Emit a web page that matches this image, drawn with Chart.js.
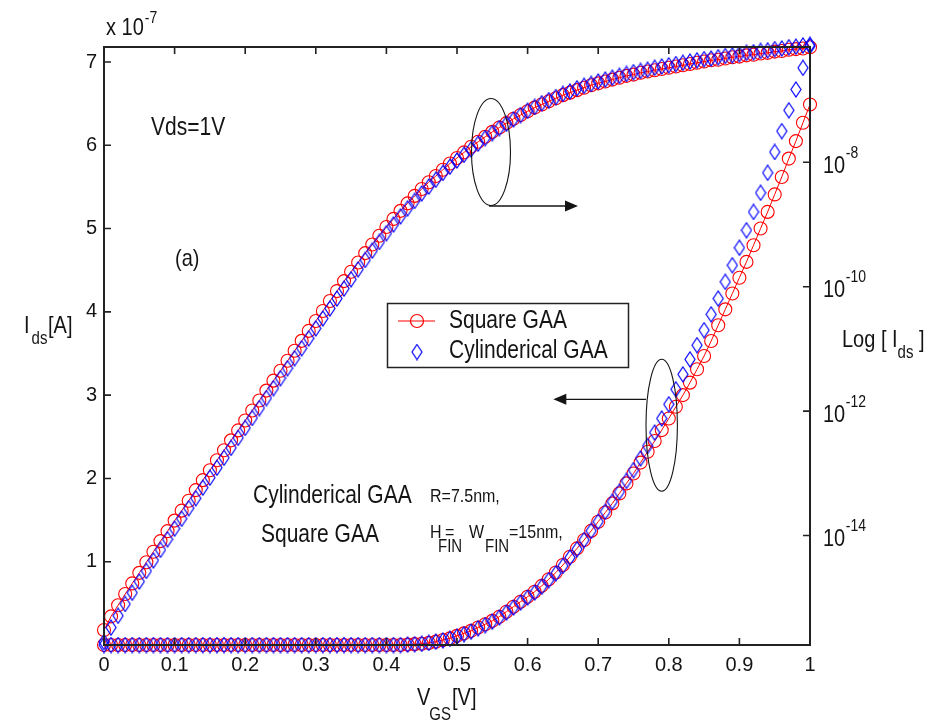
<!DOCTYPE html>
<html><head><meta charset="utf-8">
<script src="https://cdn.jsdelivr.net/npm/chart.js@4.4.0/dist/chart.umd.min.js"></script>
<style>html,body{margin:0;padding:0;background:#fff;overflow:hidden}#wrap{width:943px;height:724px}</style>
</head><body><div id="wrap"><canvas id="c" width="943" height="724"></canvas></div>
<script>
// ---- data ----
const vgs = [0,0.01,0.02,0.03,0.04,0.05,0.06,0.07,0.08,0.09,
 0.1,0.11,0.12,0.13,0.14,0.15,0.16,0.17,0.18,0.19,
 0.2,0.21,0.22,0.23,0.24,0.25,0.26,0.27,0.28,0.29,
 0.3,0.31,0.32,0.33,0.34,0.35,0.36,0.37,0.38,0.39,
 0.4,0.41,0.42,0.43,0.44,0.45,0.46,0.47,0.48,0.49,
 0.5,0.51,0.52,0.53,0.54,0.55,0.56,0.57,0.58,0.59,
 0.6,0.61,0.62,0.63,0.64,0.65,0.66,0.67,0.68,0.69,
 0.7,0.71,0.72,0.73,0.74,0.75,0.76,0.77,0.78,0.79,
 0.8,0.81,0.82,0.83,0.84,0.85,0.86,0.87,0.88,0.89,
 0.9,0.91,0.92,0.93,0.94,0.95,0.96,0.97,0.98,0.99,1];

// linear Ids in units of 1e-7 A (left axis)
const squareLinIds = [0,0,0,0,0,0,0,0,0,0,
 0,0,0,0,0,0,0,0,0,0,
 0,0,0,0,0,0,0,0,0,0,
 0,0,0,0,0,0,0,0,0,0,
 0,0,0,0.005,0.01,0.015,0.025,0.04,0.06,0.08,
 0.11,0.14,0.17,0.21,0.25,0.29,0.34,0.40,0.46,0.52,
 0.58,0.64,0.71,0.79,0.87,0.96,1.06,1.16,1.26,1.37,
 1.48,1.59,1.70,1.82,1.94,2.06,2.19,2.32,2.45,2.58,
 2.72,2.86,3.00,3.15,3.31,3.47,3.65,3.84,4.03,4.22,
 4.41,4.60,4.80,5.00,5.20,5.41,5.62,5.84,6.05,6.27,6.49];
const cylLinIds = [0,0,0,0,0,0,0,0,0,0,
 0,0,0,0,0,0,0,0,0,0,
 0,0,0,0,0,0,0,0,0,0,
 0,0,0,0,0,0,0,0,0,0,
 0,0,0,0.005,0.01,0.015,0.025,0.04,0.055,0.075,
 0.10,0.13,0.16,0.20,0.24,0.28,0.33,0.39,0.45,0.51,
 0.57,0.63,0.70,0.78,0.86,0.95,1.05,1.15,1.26,1.37,
 1.48,1.60,1.72,1.84,1.97,2.10,2.24,2.39,2.55,2.72,
 2.89,3.07,3.25,3.43,3.60,3.78,3.97,4.16,4.36,4.56,
 4.77,4.98,5.20,5.43,5.67,5.92,6.17,6.42,6.67,6.93,7.19];

// log10(Ids [A]) (right axis)
const squareLogExp = [-15.52,-15.30,-15.12,-14.94,-14.77,-14.60,-14.43,-14.26,-14.09,-13.93,
 -13.76,-13.60,-13.44,-13.27,-13.11,-12.95,-12.79,-12.63,-12.47,-12.31,
 -12.15,-11.99,-11.83,-11.67,-11.51,-11.35,-11.19,-11.03,-10.87,-10.71,
 -10.55,-10.39,-10.23,-10.07,-9.91,-9.76,-9.61,-9.46,-9.32,-9.18,
 -9.04,-8.91,-8.78,-8.66,-8.54,-8.43,-8.32,-8.22,-8.12,-8.02,
 -7.93,-7.84,-7.75,-7.67,-7.59,-7.51,-7.44,-7.37,-7.30,-7.24,
 -7.18,-7.12,-7.07,-7.02,-6.97,-6.92,-6.88,-6.84,-6.80,-6.76,
 -6.73,-6.70,-6.67,-6.64,-6.61,-6.59,-6.56,-6.54,-6.52,-6.50,
 -6.48,-6.46,-6.44,-6.42,-6.40,-6.38,-6.36,-6.35,-6.33,-6.31,
 -6.30,-6.28,-6.27,-6.25,-6.24,-6.22,-6.21,-6.19,-6.18,-6.17,-6.15];
const cylLogExp = [-15.71,-15.48,-15.29,-15.10,-14.92,-14.74,-14.57,-14.40,-14.23,-14.06,
 -13.89,-13.73,-13.56,-13.40,-13.23,-13.07,-12.91,-12.75,-12.59,-12.43,
 -12.27,-12.11,-11.95,-11.79,-11.63,-11.47,-11.31,-11.15,-10.99,-10.83,
 -10.67,-10.51,-10.35,-10.19,-10.03,-9.88,-9.72,-9.57,-9.42,-9.28,
 -9.14,-9.00,-8.87,-8.74,-8.62,-8.50,-8.39,-8.28,-8.17,-8.07,
 -7.97,-7.88,-7.79,-7.70,-7.61,-7.53,-7.45,-7.38,-7.31,-7.24,
 -7.17,-7.11,-7.05,-7.00,-6.95,-6.90,-6.86,-6.81,-6.77,-6.74,
 -6.70,-6.67,-6.64,-6.61,-6.58,-6.55,-6.53,-6.51,-6.48,-6.46,
 -6.44,-6.42,-6.40,-6.38,-6.36,-6.34,-6.33,-6.31,-6.29,-6.28,
 -6.26,-6.24,-6.23,-6.21,-6.20,-6.18,-6.17,-6.15,-6.14,-6.12,-6.11];

const seriesNames = ['Square GAA', 'Cylinderical GAA'];
const xTicks = [0,0.1,0.2,0.3,0.4,0.5,0.6,0.7,0.8,0.9,1];
const leftTicks = [1,2,3,4,5,6,7];
const rightTickExps = [-14,-12,-10,-8];

// ---- style ----
const FONT = '"Liberation Sans", Arial, Helvetica, sans-serif';
const RED = '#ff0000', BLUE = '#0000ff', INK = '#141414', FRAME = '#222222';
const VS = 1.2; // vertical text stretch of the original raster

function makeDiamond(color){
  const c = document.createElement('canvas'); c.width = 12; c.height = 17;
  const g = c.getContext('2d');
  g.strokeStyle = color; g.lineWidth = 1.2;
  g.beginPath(); g.moveTo(6,1); g.lineTo(11,8.5); g.lineTo(6,16); g.lineTo(1,8.5); g.closePath(); g.stroke();
  return c;
}
const diamond = makeDiamond(BLUE);

const pts = (arr) => vgs.map((v,i)=>({x:v, y:arr[i]}));
const logPts = (arr) => vgs.map((v,i)=>({x:v, y:Math.pow(10, arr[i])}));

function txt(ctx, s, x, y, size, color){
  ctx.save();
  ctx.font = size + 'px ' + FONT;
  ctx.fillStyle = color || INK;
  ctx.textAlign = 'left'; ctx.textBaseline = 'alphabetic';
  ctx.translate(x, y); ctx.scale(1, VS);
  ctx.fillText(s, 0, 0);
  const w = ctx.measureText(s).width;
  ctx.restore();
  return x + w;
}

function arrow(ctx, x1, y, x2){
  const dir = Math.sign(x2 - x1);
  ctx.beginPath(); ctx.moveTo(x1, y); ctx.lineTo(x2 - dir*12, y); ctx.stroke();
  ctx.beginPath(); ctx.moveTo(x2, y); ctx.lineTo(x2 - dir*13, y - 5.5); ctx.lineTo(x2 - dir*13, y + 5.5); ctx.closePath(); ctx.fill();
}

const decor = {
  id: 'decor',
  afterDraw(chart){
    const {ctx, chartArea:{left,right,top,bottom}, scales:{x,y,y2}} = chart;
    ctx.save();
    // frame
    ctx.strokeStyle = FRAME; ctx.lineWidth = 2;
    ctx.strokeRect(left, top, right-left, bottom-top);
    // inward ticks
    ctx.lineWidth = 1.6;
    ctx.beginPath();
    xTicks.forEach(v=>{ const px = x.getPixelForValue(v);
      ctx.moveTo(px, bottom); ctx.lineTo(px, bottom-7);
      ctx.moveTo(px, top); ctx.lineTo(px, top+7); });
    leftTicks.forEach(v=>{ const py = y.getPixelForValue(v); ctx.moveTo(left, py); ctx.lineTo(left+7, py); });
    rightTickExps.forEach(e=>{ const py = y2.getPixelForValue(Math.pow(10,e)); ctx.moveTo(right, py); ctx.lineTo(right-7, py); });
    ctx.stroke();
    // right log tick labels 10^e
    rightTickExps.forEach(e=>{
      const py = y2.getPixelForValue(Math.pow(10,e));
      const xe = txt(ctx, '10', right+13, py+10.5, 20);
      txt(ctx, String(e), xe+0.5, py-4.5, 14);
    });
    // multiplier x 10^-7
    const xm = txt(ctx, 'x 10', 106, 35, 20);
    txt(ctx, '-7', xm+1, 22.5, 14);
    // axis titles
    let xx = txt(ctx, 'I', 24, 333, 20); txt(ctx, 'ds', xx+2, 344, 15); txt(ctx, '[A]', 48, 333, 20);
    xx = txt(ctx, 'V', 417, 705, 20); xx = txt(ctx, 'GS', xx-1, 720, 15); txt(ctx, '[V]', xx+1, 705, 20);
    xx = txt(ctx, 'Log [ I', 842, 347, 20); xx = txt(ctx, 'ds', xx, 358, 15); txt(ctx, ' ]', xx, 347, 20);
    // annotations
    txt(ctx, 'Vds=1V', 151, 135, 21);
    txt(ctx, '(a)', 175, 266, 20);
    txt(ctx, 'Cylinderical GAA', 253, 503, 21);
    txt(ctx, 'R=7.5nm,', 430, 502, 16);
    txt(ctx, 'Square GAA', 261, 542, 21);
    txt(ctx, 'H', 430, 538, 16);
    txt(ctx, 'FIN', 438, 552, 15);
    txt(ctx, '=', 445, 538, 16);
    txt(ctx, 'W', 469, 538, 16);
    txt(ctx, 'FIN', 485, 552, 15);
    txt(ctx, '=15nm,', 509, 538, 16);
    // ellipses and arrows
    ctx.strokeStyle = INK; ctx.fillStyle = INK; ctx.lineWidth = 1.1;
    ctx.beginPath(); ctx.ellipse(491, 152, 19.5, 53.5, 0, 0, Math.PI*2); ctx.stroke();
    ctx.lineWidth = 1.3; arrow(ctx, 489, 206, 578);
    ctx.lineWidth = 1.1;
    ctx.beginPath(); ctx.ellipse(661.7, 425.3, 15.7, 66, 0, 0, Math.PI*2); ctx.stroke();
    ctx.lineWidth = 1.3; arrow(ctx, 646, 399.3, 553.3);
    // legend
    ctx.fillStyle = '#ffffff'; ctx.fillRect(387.5, 303.5, 241, 64);
    ctx.strokeStyle = FRAME; ctx.lineWidth = 1.5; ctx.strokeRect(387.5, 303.5, 241, 64);
    ctx.strokeStyle = RED; ctx.lineWidth = 1.2;
    ctx.beginPath(); ctx.moveTo(398, 321); ctx.lineTo(435, 321); ctx.stroke();
    ctx.beginPath(); ctx.arc(417, 321, 6.5, 0, Math.PI*2); ctx.stroke();
    ctx.drawImage(diamond, 417 - diamond.width/2, 352 - diamond.height/2);
    txt(ctx, seriesNames[0], 449, 328, 21);
    txt(ctx, seriesNames[1], 449, 358, 21);
    ctx.restore();
  }
};

const common = {showLine:false, clip:false, borderWidth:1, pointHoverRadius:0, tension:0};
const chart = new Chart(document.getElementById('c').getContext('2d'), {
  type: 'line',
  data: { datasets: [
    Object.assign({}, common, {label: seriesNames[1], data: pts(cylLinIds), yAxisID:'y', order:0,
      borderColor:BLUE, pointStyle:diamond, pointRadius:6}),
    Object.assign({}, common, {label: seriesNames[1], data: logPts(cylLogExp), yAxisID:'y2', order:0,
      borderColor:BLUE, pointStyle:diamond, pointRadius:6}),
    Object.assign({}, common, {label: seriesNames[0], data: pts(squareLinIds), yAxisID:'y', order:1, showLine:true,
      borderColor:RED, pointStyle:'circle', pointRadius:6.5, pointBorderColor:RED, pointBorderWidth:1.1, pointBackgroundColor:'rgba(0,0,0,0)'}),
    Object.assign({}, common, {label: seriesNames[0], data: logPts(squareLogExp), yAxisID:'y2', order:1, showLine:true,
      borderColor:RED, pointStyle:'circle', pointRadius:6.5, pointBorderColor:RED, pointBorderWidth:1.1, pointBackgroundColor:'rgba(0,0,0,0)'})
  ]},
  options: {
    responsive:false, animation:false, events:[],
    layout:{padding:{top:47,left:0,right:0,bottom:0}},
    plugins:{legend:{display:false}, tooltip:{enabled:false}},
    scales:{
      x:{type:'linear', min:0, max:1,
        afterBuildTicks:(s)=>{ s.ticks = xTicks.map(v=>({value:v})); },
        afterFit:(s)=>{ s.height = 79; },
        ticks:{font:{family:FONT,size:20}, color:INK, padding:8, maxRotation:0, autoSkip:false, callback:(v)=>String(v)},
        grid:{display:false, drawTicks:false}, border:{display:false}},
      y:{type:'linear', position:'left', min:0, max:7.18,
        afterBuildTicks:(s)=>{ s.ticks = leftTicks.map(v=>({value:v})); },
        afterFit:(s)=>{ s.width = 104; },
        ticks:{font:{family:FONT,size:20}, color:INK, padding:7, callback:(v)=>String(v)},
        grid:{display:false, drawTicks:false}, border:{display:false}},
      y2:{type:'logarithmic', position:'right', min:Math.pow(10,-15.76), max:Math.pow(10,-6.146),
        afterBuildTicks:(s)=>{ s.ticks = rightTickExps.map(e=>({value:Math.pow(10,e)})); },
        afterFit:(s)=>{ s.width = 133; },
        ticks:{display:false}, grid:{display:false, drawTicks:false}, border:{display:false}}
    }
  },
  plugins:[decor]
});
</script></body></html>
